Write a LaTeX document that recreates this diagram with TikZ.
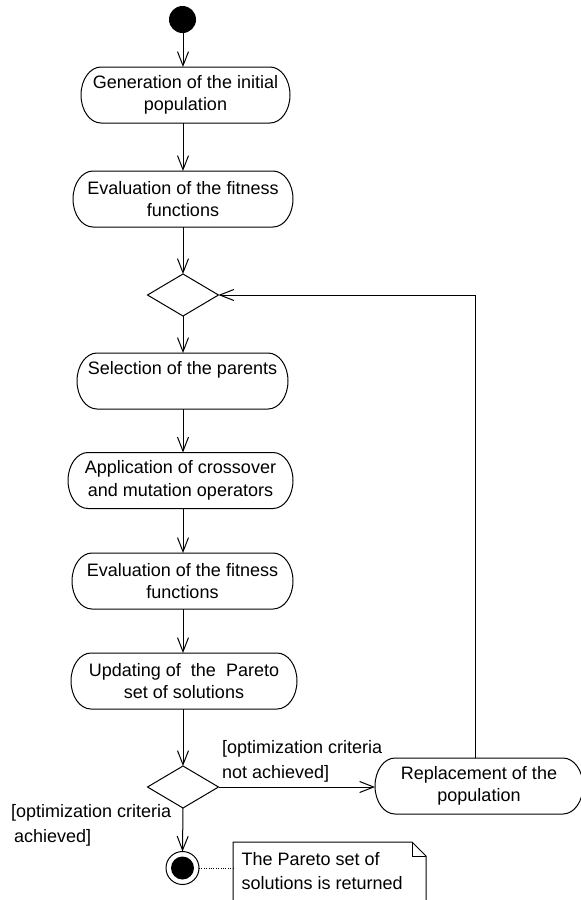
\documentclass[tikz,border=0pt]{standalone}
\usepackage{fontspec}
\setmainfont{Liberation Sans}
\usetikzlibrary{arrows.meta,shapes.geometric}

\begin{document}
\begin{tikzpicture}[x=1pt,y=-1pt,
  line width=1pt,
  every node/.style={font=\fontsize{18}{22.5}\selectfont},
  flow/.style={draw, -{Straight Barb[length=14pt,width=11pt]}},
  act/.style={minimum height=56pt, inner sep=0pt, outer sep=0pt, align=center},
  decision/.style={draw, diamond, minimum width=71pt, minimum height=42pt, inner sep=0pt, outer sep=0pt},
  guard/.style={anchor=north west, align=left, inner sep=0pt, font=\fontsize{18}{25}\selectfont},
  notetext/.style={anchor=north west, align=left, inner sep=0pt, font=\fontsize{18}{24}\selectfont},
  link/.style={draw, line width=0.9pt, dash pattern=on 1pt off 1.4pt}]

\useasboundingbox (0,0) rectangle (581,900);
\clip (0,0) rectangle (581,900);

% column of the main flow and of the loop back
\coordinate (spine) at (183,0);
\coordinate (loopx) at (475,0);

% initial and final nodes
\node[circle, fill, inner sep=0pt, outer sep=0pt, minimum size=27pt] (start) at (182.5,19.5) {};
\node[circle, draw, inner sep=0pt, outer sep=0pt, minimum size=33pt] (final) at (182.5,868) {};
\fill (final.center) circle[radius=11.5pt];

% actions
\node[act, minimum width=209pt] (gen)   at (185.5,95)  {Generation of the initial\\population};
\node[act, minimum width=220pt] (eval1) at (183,199)   {Evaluation of the fitness\\functions};
\node[act, minimum width=211pt] (sel)   at (182.5,381) {Selection of the parents\\\phantom{p}};
\node[act, minimum width=225pt] (app)   at (180.5,480.5) {Application of crossover\\and mutation operators};
\node[act, minimum width=221pt] (eval2) at (182.5,581) {Evaluation of the fitness\\functions};
\node[act, minimum width=226pt] (upd)   at (184,681)   {Updating of\ \ the\ \ Pareto\\set of solutions};
\node[act, minimum width=208pt] (repl)  at (479,786)   {Replacement of the\\population};

% stadium outlines with elliptic ends
\foreach \n in {gen,eval1,sel,app,eval2,upd,repl}{
  \draw ([xshift=20pt]\n.north west) -- ([xshift=-20pt]\n.north east)
    arc[start angle=90, end angle=-90, x radius=20pt, y radius=28pt]
    -- ([xshift=20pt]\n.south west)
    arc[start angle=270, end angle=90, x radius=20pt, y radius=28pt] -- cycle;
}

% decisions
\node[decision] (d1) at (183,295) {};
\node[decision] (d2) at (183,787) {};

% guards
\node[guard] (gNot) at (221.5,740) {[optimization criteria\\not achieved]};
\node[guard] (gYes) at (10.5,804) {[optimization criteria\\\hspace{3pt}achieved]};

% note attached to the final node
\coordinate (noteNW) at (233,842);
\draw (233,905) -- (noteNW) -- (412,842) -- (426,856) -- (426,905);
\draw (412,842) -- (412,856) -- (426,856);
\node[notetext] (noteText) at (241,851.5) {The Pareto set of\\solutions is returned};

% control flow
\draw[flow] (start.south -| spine) -- (gen.north -| spine);
\draw[flow] (gen.south -| spine) -- (eval1.north -| spine);
\draw[flow] (eval1.south -| spine) -- (d1.north);
\draw[flow] (d1.south) -- (sel.north -| spine);
\draw[flow] (sel.south -| spine) -- (app.north -| spine);
\draw[flow] (app.south -| spine) -- (eval2.north -| spine);
\draw[flow] (eval2.south -| spine) -- (upd.north -| spine);
\draw[flow] (upd.south -| spine) -- (d2.north);
\draw[flow] (d2.east) -- (d2.east -| repl.west);
\draw[flow] (d2.south) -- (final.north);
\draw[flow] (repl.north -| loopx) |- (d1.east);
\draw[link] (final.east) -- (final.east -| noteNW);
\end{tikzpicture}
\end{document}
